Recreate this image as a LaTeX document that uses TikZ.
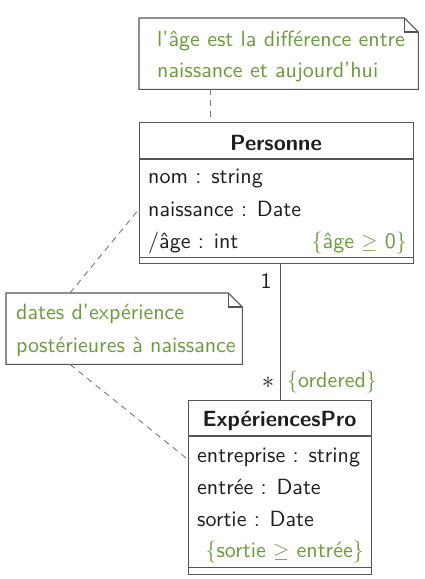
\documentclass[tikz,border=0pt]{standalone}
\usepackage{fontspec}
\setsansfont{lmsans10-regular.otf}[BoldFont=lmsans10-bold.otf]
\definecolor{notegreen}{RGB}{108,155,60}
\definecolor{linegray}{RGB}{85,85,85}
\definecolor{dashgray}{RGB}{120,120,120}
\definecolor{txtcol}{RGB}{30,30,30}
\begin{document}
\begin{tikzpicture}[x=1pt,y=-1pt,
  font=\sffamily\fontsize{22}{26}\selectfont,
  umlbox/.style={draw=linegray,line width=1.1pt,inner sep=0,anchor=north west},
  notebox/.style={inner sep=0,anchor=north west},
  noteline/.style={draw=linegray,line width=1.1pt},
  attr/.style={anchor=base west,inner sep=0,text=txtcol},
  cons/.style={anchor=base east,inner sep=0,text=notegreen},
  ntxt/.style={anchor=base west,inner sep=0,text=notegreen},
  title/.style={anchor=base,inner sep=0,text=txtcol,font=\sffamily\bfseries\fontsize{22}{26}\selectfont},
  dl/.style={draw=dashgray,line width=0.9pt,dash pattern=on 6pt off 5pt},
  mult/.style={inner sep=0,text=txtcol}]
\useasboundingbox (0,0) rectangle (425,579);
% notes
\node[notebox,minimum width=279pt,minimum height=71pt] (n1) at (139,18) {};
\draw[noteline] (n1.south west) |- ([xshift=-14pt]n1.north east) -- ([yshift=-14pt]n1.north east) |- cycle;
\draw[noteline] ([xshift=-14pt]n1.north east) |- ([yshift=-14pt]n1.north east);
\node[ntxt] (n1a) at (157,46) {l'âge est la différence entre};
\node[ntxt] (n1b) at (157,77) {naissance et aujourd'hui};
\node[notebox,minimum width=236pt,minimum height=71pt] (n2) at (6,293) {};
\draw[noteline] (n2.south west) |- ([xshift=-14pt]n2.north east) -- ([yshift=-14pt]n2.north east) |- cycle;
\draw[noteline] ([xshift=-14pt]n2.north east) |- ([yshift=-14pt]n2.north east);
\node[ntxt] (n2a) at (16,319) {dates d'expérience};
\node[ntxt] (n2b) at (16,352) {postérieures à naissance};
% Personne
\node[umlbox,minimum width=274pt,minimum height=141pt] (pers) at (139,122) {};
\draw[linegray,line width=1.1pt] ([yshift=-37pt]pers.north west) -- ([yshift=-37pt]pers.north east);
\draw[linegray,line width=1.1pt] ([yshift=7pt]pers.south west) -- ([yshift=7pt]pers.south east);
\node[title] (pt) at (276,150) {Personne};
\node[attr] (p1) at (148,183) {nom : string};
\node[attr] (p2) at (148,216) {naissance : Date};
\node[attr] (p3) at (148,248) {/âge : int};
\node[cons] (p4) at (407,248) {\{âge $\geq$ 0\}};
% ExperiencesPro
\node[umlbox,minimum width=183pt,minimum height=174pt] (exp) at (188,400) {};
\draw[linegray,line width=1.1pt] ([yshift=-36pt]exp.north west) -- ([yshift=-36pt]exp.north east);
\draw[linegray,line width=1.1pt] ([yshift=8pt]exp.south west) -- ([yshift=8pt]exp.south east);
\node[title] (et) at (279.5,426) {ExpériencesPro};
\node[attr] (e1) at (197,462) {entreprise : string};
\node[attr] (e2) at (197,494) {entrée : Date};
\node[attr] (e3) at (197,526) {sortie : Date};
\node[cons] (e4) at (364,557) {\{sortie $\geq$ entrée\}};
% association
\draw[linegray,line width=1.1pt] (exp.north |- pers.south) -- (exp.north);
\node[mult] (m1) at (266,281) {1};
\node[mult,font=\fontsize{27}{30}\selectfont] (m2) at (268,383) {$\ast$};
\node[ntxt] (ord) at (287,387) {\{ordered\}};
% dashed anchors
\draw[dl] ([xshift=71pt]n1.south west) -- ([xshift=71pt]pers.north west);
\draw[dl] ([xshift=64pt]n2.north west) -- ([yshift=-16pt]pers.west);
\draw[dl] ([xshift=64pt]n2.south west) -- ([yshift=28pt]exp.west);
\end{tikzpicture}
\end{document}
